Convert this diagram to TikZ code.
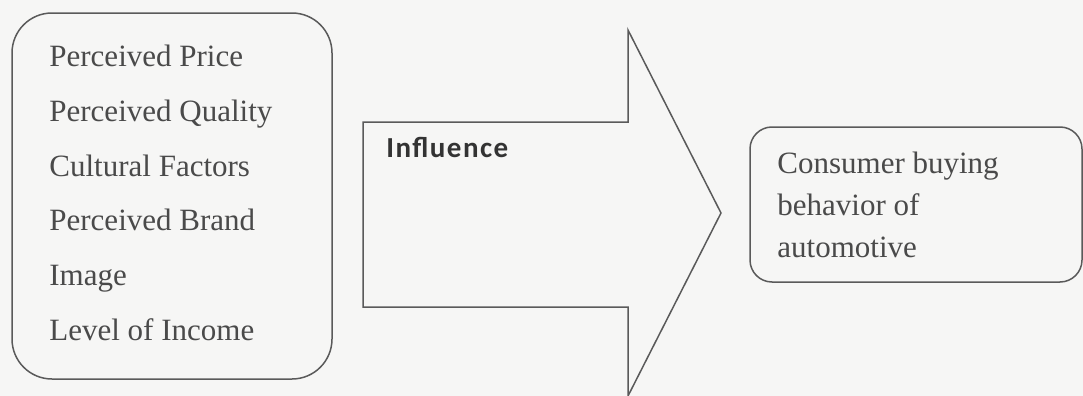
\documentclass[tikz,border=0pt]{standalone}
\usepackage{fontspec}
\setmainfont{Liberation Serif}
\newfontfamily\inflfont[LetterSpace=5]{Carlito}
\usetikzlibrary{positioning}
\definecolor{paper}{HTML}{F6F6F5}
\definecolor{ink}{HTML}{4A4A4A}
\definecolor{edge}{HTML}{5A5A5A}

\begin{document}
\begin{tikzpicture}[x=.5pt,y=-.5pt,font=\fontsize{15.5}{18}\selectfont,
    factor/.style={anchor=base west,inner sep=0pt,text=ink},
    outline/.style={draw=edge,line width=.75pt}]
      \fill[paper](0,0) rectangle(1083,396);
      \useasboundingbox(0,0) rectangle(1083,396);
      % left box with the factors
      \draw[outline,rounded corners=20pt](12,13) rectangle(332,379);
      \foreach \lab [count=\i from 0] in {Perceived Price, Perceived Quality, Cultural Factors, Perceived Brand, Image, Level of Income}{
        \node[factor] (f\i) at (49,{67+54.6*\i}) {\lab};}
      % big arrow
      \draw[outline,line join=miter](363,122)--(628,122)--(628,30)--(721,213)--(628,396)--(628,307)--(363,307)--cycle;
      \node[factor,text=black!80] (infl) at (386,157) {\inflfont\bfseries\fontsize{14.5}{16}\selectfont Influence};
      % right box
      \draw[outline,rounded corners=11pt](750,127) rectangle(1082,282);
      \node[factor] (c1) at (777,173) {Consumer buying};
      \node[factor] (c2) at (777,215) {behavior of};
      \node[factor] (c3) at (777,257) {automotive};
    \end{tikzpicture}
\end{document}
